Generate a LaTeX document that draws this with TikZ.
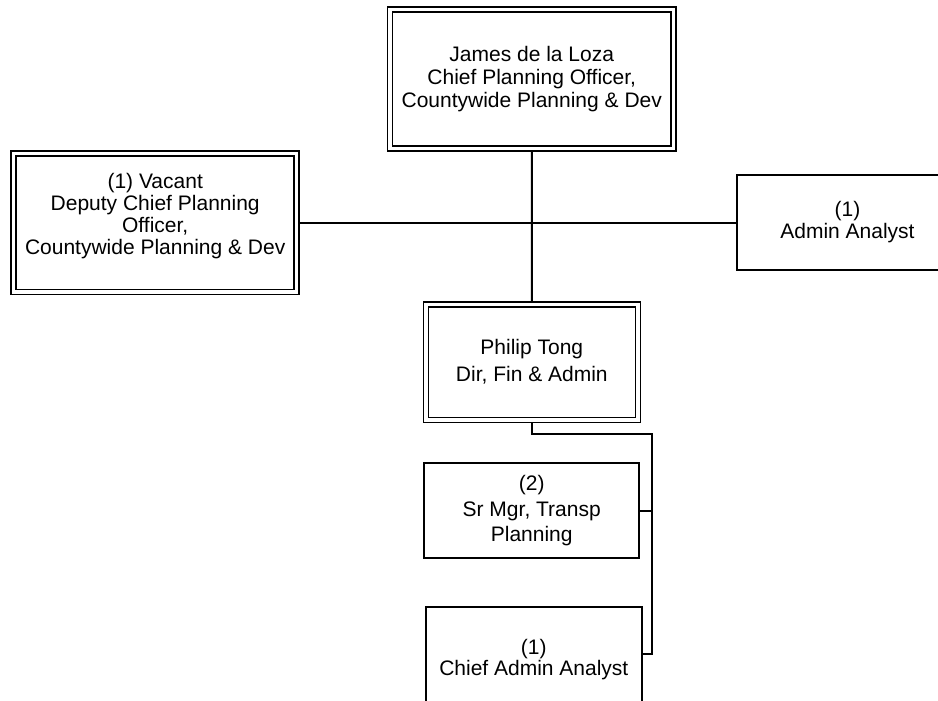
\documentclass[tikz,border=0pt]{standalone}
\usepackage{fontspec}
\setmainfont{Liberation Sans}
\begin{document}
\begin{tikzpicture}[x=1pt,y=-1pt,
  boxbase/.style={rectangle, inner sep=0pt, align=center, fill=white},
  dbox/.style={boxbase, draw=black, line width=1.6pt, double=white, double distance=3.4pt, outer sep=3.3pt},
  sbox/.style={boxbase, draw=black, line width=2pt, outer sep=0pt},
  fs/.style={font=\fontsize{21}{#1}\selectfont},
  conn/.style={draw=black, line width=2pt}
]
\useasboundingbox (0,0) rectangle (938,701);
\fill[white] (0,0) rectangle (938,701);
\clip (0,0) rectangle (938,701);

\node[dbox, fs=23.2, minimum width=283.9pt, minimum height=138.8pt] (top) at (531.75,78.9)
  {James de la Loza\\Chief Planning Officer,\\Countywide Planning \& Dev};
\node[dbox, fs=21.8, text depth=17.5pt, minimum width=283pt, minimum height=138.4pt] (left) at (155.2,222.7)
  {(1) Vacant\\Deputy Chief Planning\\Officer,\\Countywide Planning \& Dev};
\node[sbox, fs=22, minimum width=220.4pt, minimum height=95pt] (right) at (847.5,222.5)
  {(1)\\Admin Analyst};
\node[dbox, fs=27, minimum width=212pt, minimum height=115.3pt] (philip) at (531.8,362.2)
  {Philip Tong\\Dir, Fin \& Admin};
\node[sbox, fs=25.7, minimum width=215.3pt, minimum height=95pt] (sr) at (531.7,510.8)
  {(2)\\Sr Mgr, Transp\\Planning};
\node[sbox, fs=21, minimum width=215.7pt, minimum height=106.6pt] (chief) at (533.8,660)
  {(1)\\Chief Admin Analyst};

\coordinate (hub) at (531.75,222.7);
\coordinate (j1) at (651.7,434);
\coordinate (j2) at (651.7,654);

\draw[conn] (top.south) -- (philip.north);
\draw[conn] (left.east) -- (hub -| right.west);
\draw[conn] (philip.south) |- (j1) -- (j2) -- (j2 -| chief.east);
\draw[conn] (sr.east) -- (sr.east -| j1);
\end{tikzpicture}
\end{document}
